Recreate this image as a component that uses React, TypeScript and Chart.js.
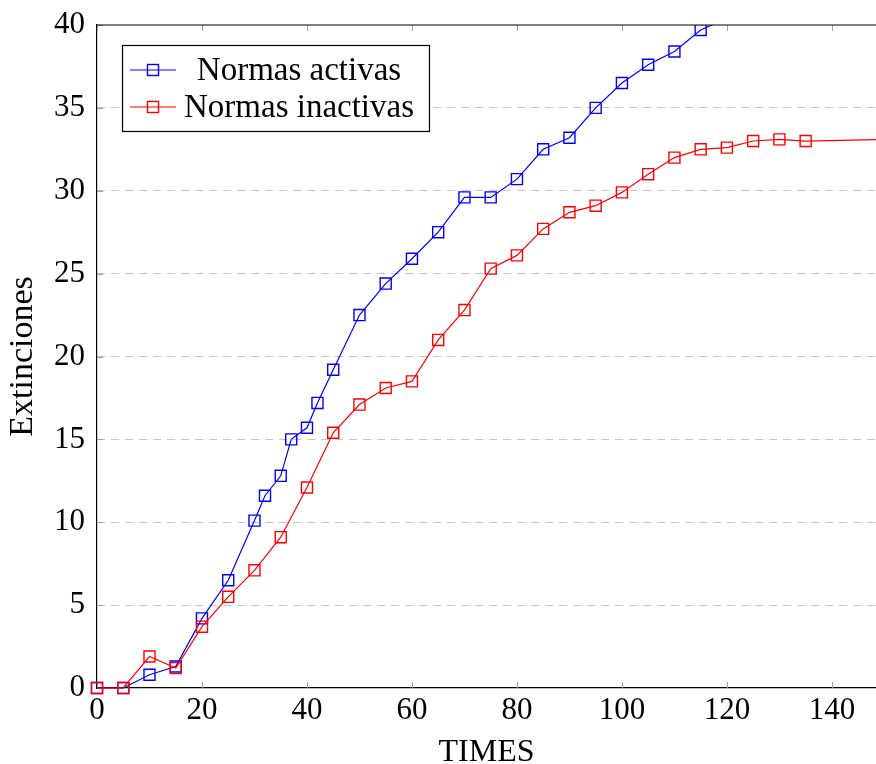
import React, { useEffect, useRef } from "react";
import { Chart, registerables } from "chart.js";

Chart.register(...registerables);

const timesActivas = [0, 5, 10, 15, 20, 25, 30, 32, 35, 37, 40, 42, 45, 50, 55, 60, 65, 70, 75, 80, 85, 90, 95, 100, 105, 110, 115, 120];
const extActivas = [0, 0, 0.8, 1.3, 4.2, 6.5, 10.1, 11.6, 12.8, 15.0, 15.7, 17.2, 19.2, 22.5, 24.4, 25.9, 27.5, 29.6, 29.6, 30.7, 32.5, 33.2, 35.0, 36.5, 37.6, 38.4, 39.7, 40.4];

const timesInactivas = [0, 5, 10, 15, 20, 25, 30, 35, 40, 45, 50, 55, 60, 65, 70, 75, 80, 85, 90, 95, 100, 105, 110, 115, 120, 125, 130, 135, 150];
const extInactivas = [0, 0, 1.9, 1.2, 3.7, 5.5, 7.1, 9.1, 12.1, 15.4, 17.1, 18.1, 18.5, 21.0, 22.8, 25.3, 26.1, 27.7, 28.7, 29.1, 29.9, 31.0, 32.0, 32.5, 32.6, 33.0, 33.1, 33.0, 33.1];

const seriesLabels = ["Normas activas", "Normas inactivas"];
const seriesColors = ["#0000ff", "#ff0000"];
const xTicks = [0, 20, 40, 60, 80, 100, 120, 140];
const xMax = 148.4;
const yMax = 40;
const yStep = 5;
const xTitle = "TIMES";
const yTitle = "Extinciones";

const FONT = "'Liberation Serif', 'DejaVu Serif', serif";

const framePlugin = {
  id: "frame",
  beforeDatasetsDraw(chart: any) {
    const { ctx, chartArea } = chart;
    const xs = chart.scales.x;
    const ys = chart.scales.y;
    ctx.save();
    ctx.strokeStyle = "#a0a0a0";
    ctx.lineWidth = 1;
    const tl = 6;
    xs.ticks.forEach((t: any) => {
      const px = Math.round(xs.getPixelForValue(t.value)) + 0.5;
      ctx.beginPath();
      ctx.moveTo(px, chartArea.bottom);
      ctx.lineTo(px, chartArea.bottom - tl);
      ctx.moveTo(px, chartArea.top);
      ctx.lineTo(px, chartArea.top + tl);
      ctx.stroke();
    });
    ys.ticks.forEach((t: any) => {
      const py = Math.round(ys.getPixelForValue(t.value)) + 0.5;
      ctx.beginPath();
      ctx.moveTo(chartArea.left, py);
      ctx.lineTo(chartArea.left + tl, py);
      ctx.stroke();
    });
    ctx.restore();
  },
  afterDraw(chart: any) {
    const { ctx, chartArea } = chart;
    ctx.save();
    // top axis line
    ctx.strokeStyle = "#000";
    ctx.lineWidth = 1.2;
    ctx.beginPath();
    ctx.moveTo(chartArea.left, chartArea.top);
    ctx.lineTo(chartArea.right, chartArea.top);
    ctx.stroke();

    // legend box (inside the plot, top-left)
    const bx = chartArea.left + 25;
    const by = chartArea.top + 20;
    const bw = 307;
    const bh = 86;
    ctx.fillStyle = "#fff";
    ctx.fillRect(bx, by, bw, bh);
    ctx.strokeStyle = "#000";
    ctx.lineWidth = 1.2;
    ctx.strokeRect(bx + 0.5, by + 0.5, bw, bh);

    const rows = [by + 25, by + 62];
    chart.data.datasets.forEach((ds: any, i: number) => {
      const cy = rows[i];
      ctx.strokeStyle = ds.borderColor;
      ctx.lineWidth = 1.2;
      ctx.beginPath();
      ctx.moveTo(bx + 8, cy);
      ctx.lineTo(bx + 54, cy);
      ctx.stroke();
      ctx.lineWidth = 1.4;
      ctx.strokeRect(bx + 31 - 5.5, cy - 5.5, 11, 11);
      ctx.fillStyle = "#000";
      ctx.font = `33px ${FONT}`;
      ctx.textAlign = "center";
      ctx.textBaseline = "alphabetic";
      ctx.fillText(ds.label, bx + 177, cy + 10);
    });
    ctx.restore();
  },
};

export default function App() {
  const ref = useRef<HTMLCanvasElement | null>(null);

  useEffect(() => {
    if (!ref.current) return;
    const mk = (xs: number[], ys: number[]) => xs.map((x, i) => ({ x, y: ys[i] }));
    const common = {
      borderWidth: 1.2,
      pointStyle: "rect",
      pointRadius: 7.8,
      pointBorderWidth: 1.4,
      pointBackgroundColor: "rgba(0,0,0,0)",
      tension: 0,
      clip: { left: 12, bottom: 12, top: 0, right: 0 },
    };
    const chart = new Chart(ref.current, {
      type: "line",
      data: {
        datasets: [
          { ...common, label: seriesLabels[0], data: mk(timesActivas, extActivas), borderColor: seriesColors[0], pointBorderColor: seriesColors[0], order: 1 },
          { ...common, label: seriesLabels[1], data: mk(timesInactivas, extInactivas), borderColor: seriesColors[1], pointBorderColor: seriesColors[1], order: 0 },
        ],
      } as any,
      options: {
        responsive: false,
        animation: false,
        devicePixelRatio: 1,
        layout: { autoPadding: false, padding: { top: 25, left: 0, right: 0, bottom: 0 } },
        plugins: { legend: { display: false }, tooltip: { enabled: false } },
        scales: {
          x: {
            type: "linear",
            min: 0,
            max: xMax,
            afterBuildTicks: (scale: any) => {
              scale.ticks = xTicks.map((v) => ({ value: v }));
            },
            afterFit: (scale: any) => {
              scale.height = 76;
              scale.paddingLeft = 0;
              scale.paddingRight = 0;
            },
            grid: { display: false, drawTicks: false },
            border: { display: true, color: "#000", width: 1.2 },
            ticks: { color: "#000", padding: 4, maxRotation: 0, font: { family: FONT, size: 31 } },
            title: { display: true, text: xTitle, color: "#000", font: { family: FONT, size: 32, lineHeight: 1 }, padding: { top: 0, bottom: -5 } },
          },
          y: {
            type: "linear",
            min: 0,
            max: yMax,
            ticks: { stepSize: yStep, color: "#000", padding: 12, font: { family: FONT, size: 31 } },
            afterFit: (scale: any) => {
              scale.width = 97;
              scale.paddingTop = 0;
              scale.paddingBottom = 0;
            },
            grid: {
              drawTicks: false,
              color: (ctx: any) => (ctx.tick && (ctx.tick.value === 0 || ctx.tick.value === yMax) ? "rgba(0,0,0,0)" : "#c4c4c4"),
              lineWidth: 1,
            },
            border: { display: true, color: "#000", width: 1.2, dash: [8, 6] },
            title: { display: true, text: yTitle, color: "#000", font: { family: FONT, size: 34, lineHeight: 1 }, padding: { top: 6, bottom: 0 } },
          },
        },
      } as any,
      plugins: [framePlugin],
    });
    return () => chart.destroy();
  }, []);

  return (
    <div style={{ position: "absolute", left: 0, top: 0, width: 876, height: 764, background: "#fff" }}>
      <canvas ref={ref} width={876} height={764} style={{ display: "block" }} />
    </div>
  );
}
